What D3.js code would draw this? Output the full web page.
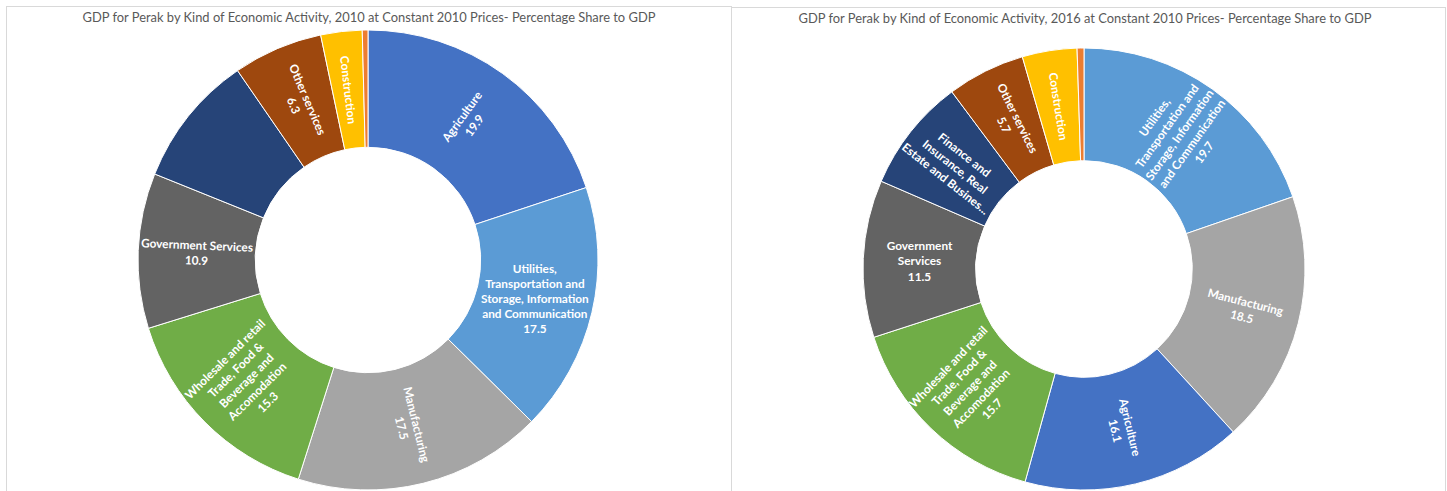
<!DOCTYPE html>
<html>
<head>
<meta charset="utf-8">
<script src="https://cdn.jsdelivr.net/npm/d3@7"></script>
<style>
  html, body { margin: 0; padding: 0; background: #ffffff; }
  svg { display: block; }
</style>
</head>
<body>
<svg id="chart" width="1447" height="491"></svg>
<script>
// ---- Data: GDP for Perak, percentage share by kind of economic activity ----
const title2010 = "GDP for Perak by Kind of Economic Activity, 2010 at Constant 2010 Prices- Percentage Share to GDP";
const title2016 = "GDP for Perak by Kind of Economic Activity, 2016 at Constant 2010 Prices- Percentage Share to GDP";

const categories2010 = ["Agriculture", "Utilities", "Manufacturing", "Wholesale", "Government", "Finance", "Other services", "Construction", "Mining"];
const values2010 = [19.9, 17.5, 17.5, 15.3, 10.9, 9.3, 6.3, 2.9, 0.4];
const labels2010 = [
  ["Agriculture", "19.9"],
  ["Utilities,", "Transportation and", "Storage, Information", "and Communication", "17.5"],
  ["Manufacturing", "17.5"],
  ["Wholesale and retail", "Trade, Food &", "Beverage and", "Accomodation", "15.3"],
  ["Government Services", "10.9"],
  null,
  ["Other services", "6.3"],
  ["Construction"],
  null
];

const categories2016 = ["Utilities", "Manufacturing", "Agriculture", "Wholesale", "Government", "Finance", "Other services", "Construction", "Mining"];
const values2016 = [19.7, 18.5, 16.1, 15.7, 11.5, 8.3, 5.7, 4.0, 0.5];
const labels2016 = [
  ["Utilities,", "Transportation and", "Storage, Information", "and Communication", "19.7"],
  ["Manufacturing", "18.5"],
  ["Agriculture", "16.1"],
  ["Wholesale and retail", "Trade, Food &", "Beverage and", "Accomodation", "15.7"],
  ["Government", "Services", "11.5"],
  ["Finance and", "Insurance, Real", "Estate and Busines..."],
  ["Other services", "5.7"],
  ["Construction"],
  null
];

// Colour per activity (Office palette)
const colorDomain = ["Agriculture", "Mining", "Manufacturing", "Construction", "Utilities", "Wholesale", "Finance", "Other services", "Government"];
const colorRange  = ["#4472C4", "#ED7D31", "#A5A5A5", "#FFC000", "#5B9BD5", "#70AD47", "#264478", "#9E480E", "#636363"];
const color = d3.scaleOrdinal().domain(colorDomain).range(colorRange);

// Labels drawn horizontally instead of along the radius
const horizontalLabels2010 = new Set(["Utilities"]);
const horizontalLabels2016 = new Set(["Government"]);

// ---- Layout ----
const svg = d3.select("#chart");
const FONT = "Lato, 'Open Sans', 'Liberation Sans', sans-serif";

const panels = [
  { x: 6.5, y: 6.5, w: 725, h: 492, cx: 368, cy: 260, r: 230, title: title2010, tx: 369, ty: 22,
    cats: categories2010, vals: values2010, labels: labels2010, horiz: horizontalLabels2010 },
  { x: 731.5, y: 7.5, w: 714, h: 492, cx: 1084, cy: 269, r: 221, title: title2016, tx: 1085, ty: 23,
    cats: categories2016, vals: values2016, labels: labels2016, horiz: horizontalLabels2016 }
];

const pie = d3.pie().sort(null).value(d => d.value);

panels.forEach(p => {
  svg.append("rect")
    .attr("x", p.x).attr("y", p.y).attr("width", p.w).attr("height", p.h)
    .attr("fill", "#ffffff").attr("stroke", "#D9D9D9").attr("stroke-width", 1);

  svg.append("text")
    .attr("x", p.tx).attr("y", p.ty)
    .attr("text-anchor", "middle")
    .attr("font-family", FONT)
    .attr("font-size", 12.9)
    .attr("fill", "#595959")
    .text(p.title);

  const data = p.cats.map((c, i) => ({ cat: c, value: p.vals[i], label: p.labels[i] }));
  const arcs = pie(data);
  const arc = d3.arc().innerRadius(p.r * 0.49).outerRadius(p.r);

  const g = svg.append("g").attr("transform", `translate(${p.cx},${p.cy})`);

  g.selectAll("path.slice")
    .data(arcs)
    .join("path")
    .attr("class", "slice")
    .attr("d", arc)
    .attr("fill", d => color(d.data.cat))
    .attr("stroke", "#ffffff")
    .attr("stroke-width", 1);

  const lineH = 15.2;
  const lbl = g.selectAll("g.lbl")
    .data(arcs.filter(d => d.data.label))
    .join("g")
    .attr("class", "lbl")
    .attr("transform", d => {
      const [x, y] = arc.centroid(d);
      let rot = 0;
      if (!p.horiz.has(d.data.cat)) {
        const mid = (d.startAngle + d.endAngle) / 2 * 180 / Math.PI;
        rot = mid - 90;
        if (rot > 90) rot -= 180;
      }
      return `translate(${x},${y}) rotate(${rot})`;
    });

  lbl.append("text")
    .attr("text-anchor", "middle")
    .attr("font-family", FONT)
    .attr("font-size", 11.8)
    .attr("font-weight", "bold")
    .attr("fill", "#ffffff")
    .each(function(d) {
      const lines = d.data.label;
      const t = d3.select(this);
      lines.forEach((ln, i) => {
        t.append("tspan")
          .attr("x", 0)
          .attr("y", (i - (lines.length - 1) / 2) * lineH)
          .attr("dy", "0.35em")
          .text(ln);
      });
    });
});
</script>
</body>
</html>
